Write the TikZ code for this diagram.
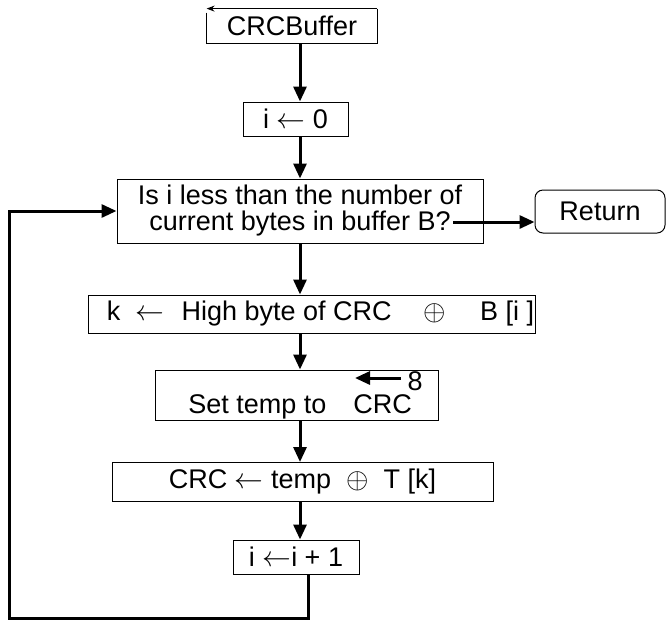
\documentclass[tikz,border=0pt]{standalone}
\usepackage{fontspec}
\setmainfont{Liberation Sans}
\usetikzlibrary{arrows.meta}

\begin{document}
\begin{tikzpicture}[x=0.5pt, y=-0.5pt, font=\fontsize{13.5}{13}\selectfont, >={Triangle[length=7.5pt,width=6.5pt]}]
	\tikzset{box/.style={draw, line width=0.5pt, inner sep=0pt},
		flow/.style={->, line width=1.5pt}}
	\useasboundingbox (0,0) rectangle (667,622);
	\coordinate (axis) at (300,0);
	% boxes, top to bottom
	\node[minimum width=85pt, minimum height=17pt, inner sep=0pt] (buf) at (292,26) {CRCBuffer};
	\node[box, minimum width=52.5pt, minimum height=17pt] (init) at (295.5,119) {i $\leftarrow$ 0};
	\node[box, minimum width=183pt, minimum height=32pt, align=center] (test) at (300,211) {Is i less than the number of\\current bytes in buffer B?};
	\node[box, rounded corners=4pt, minimum width=65pt, minimum height=21.5pt] (ret) at (600,211.5) {Return};
	\node[box, minimum width=223.5pt, minimum height=19pt] (hib) at (311.5,314) {\hspace{9pt}k\hspace{7.75pt}$\leftarrow$\hspace{8.5pt}High byte of CRC\hspace{16pt}$\oplus$\hspace{17pt}B [i ]};
	\node[box, minimum width=141.5pt, minimum height=25pt] (rot) at (296.5,395) {};
	\node[box, minimum width=190.5pt, minimum height=19.5pt] (upd) at (302.5,482) {CRC $\leftarrow$ temp\ \ $\oplus$\ \ T [k]};
	\node[box, minimum width=63pt, minimum height=17pt] (inc) at (296,557) {i $\leftarrow$i + 1};
	% text of the rotate box
	\node[anchor=base west, inner sep=0pt] (settxt) at (188,413) {Set temp to};
	\node[anchor=base west, inner sep=0pt] (crctxt) at (353,413) {CRC};
	\node[inner sep=0pt] (eight) at (415,381) {8};
	\coordinate (rotstart) at (401,378);
	\coordinate (rotend) at (355,378);
	\draw[flow] (rotstart) -- (rotend);
	% frame of the entry box
	\draw[line width=0.5pt, -{Stealth[length=4pt,width=3pt]}] (buf.north east) -- (buf.north west);
	\draw[line width=0.5pt] ([yshift=-2pt]buf.north west) -- (buf.south west) -- (buf.south east) -- (buf.north east);
	% main flow
	\draw[flow] (buf.south -| axis) -- (init.north -| axis);
	\draw[flow] (init.south -| axis) -- (test.north -| axis);
	\draw[flow] (test.south -| axis) -- (hib.north -| axis);
	\draw[flow] (hib.south -| axis) -- (rot.north -| axis);
	\draw[flow] (rot.south -| axis) -- (upd.north -| axis);
	\draw[flow] (upd.south -| axis) -- (inc.north -| axis);
	% exit and loop back
	\coordinate (qend) at (453,222);
	\draw[flow] (qend) -- (qend -| ret.west);
	\coordinate (exit) at (308,0);
	\coordinate (back) at (9,618);
	\draw[flow] (inc.south -| exit) |- (back) |- (test.west);
\end{tikzpicture}
\end{document}
